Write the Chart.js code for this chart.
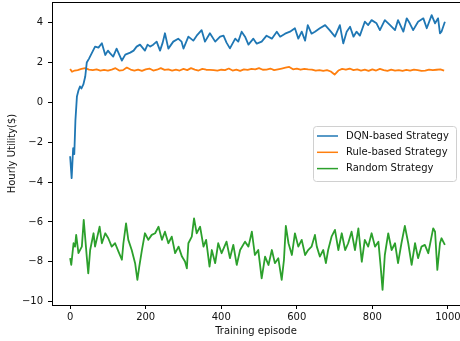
<!DOCTYPE html>
<html lang="en">
<head>
<meta charset="UTF-8">
<title>Hourly utility per training episode</title>
<style>
  html, body { margin: 0; padding: 0; background: #fff; }
  #chart { display: block; }
</style>
</head>
<body>
<canvas id="chart" width="460" height="341"></canvas>
<script src="https://cdn.jsdelivr.net/npm/chart.js"></script>
<script>
// values
const seriesNames = ["DQN-based Strategy", "Rule-based Strategy", "Random Strategy"];
const xTicks = [0, 200, 400, 600, 800, 1000];
const yTicks = [-10, -8, -6, -4, -2, 0, 2, 4];

const dqnEpisodes = [0,4,8,11,14,18,22,26,30,35,40,44,50,57,66,75,84,93,100,106,114,123,130,137,146,159,168,176,185,198,205,212,220,229,238,245,251,260,273,286,295,300,313,326,335,348,357,370,384,397,406,414,423,437,445,454,463,472,485,494,507,520,534,547,556,569,582,595,604,613,622,629,639,648,661,675,688,701,714,723,732,741,750,758,767,780,789,798,811,820,833,847,860,868,882,891,899,908,921,935,944,957,966,974,979,983,992];
const dqnValues = [-2.7,-3.8,-2.3,-2.6,-0.9,0.3,0.6,0.8,0.7,0.9,1.3,2.0,2.2,2.46,2.8,2.75,2.97,2.38,2.6,2.46,2.3,2.7,2.4,2.1,2.4,2.5,2.6,2.8,2.9,2.6,2.9,2.8,2.9,3.05,2.6,3.0,3.47,2.7,3.05,3.2,3.05,2.7,3.3,3.1,3.35,3.63,3.05,3.47,3.05,3.3,3.35,3.0,2.71,3.2,3.05,3.55,3.3,2.9,3.2,2.95,3.05,3.35,3.2,3.55,3.3,3.45,3.55,3.72,3.2,3.55,3.1,3.88,3.45,3.55,3.72,3.88,3.6,3.3,3.88,2.96,3.55,3.8,3.3,3.55,3.35,4.05,3.88,4.13,3.97,3.63,4.13,3.88,3.63,4.13,3.55,4.22,3.97,3.63,4.05,4.22,3.72,4.38,3.97,4.22,3.47,3.55,4.05];

const ruleEpisodes = [0,5,12,20,30,40,50,60,70,80,90,100,110,120,130,140,150,160,170,180,190,200,210,220,230,240,250,260,270,280,290,300,310,320,330,340,350,360,370,380,390,400,410,420,430,440,450,460,470,480,490,500,510,520,530,540,550,560,570,580,590,600,610,620,630,640,650,660,670,680,690,700,710,720,730,740,750,760,770,780,790,800,810,820,830,840,850,860,870,880,890,900,910,920,930,940,950,960,970,980,990];
const ruleValues = [1.68,1.54,1.6,1.62,1.68,1.72,1.65,1.62,1.66,1.6,1.63,1.6,1.65,1.72,1.6,1.62,1.75,1.65,1.6,1.65,1.58,1.66,1.7,1.6,1.64,1.72,1.63,1.66,1.6,1.64,1.6,1.68,1.62,1.72,1.65,1.6,1.68,1.64,1.63,1.62,1.6,1.64,1.62,1.7,1.6,1.65,1.58,1.66,1.63,1.68,1.66,1.72,1.64,1.65,1.7,1.62,1.66,1.7,1.74,1.78,1.66,1.7,1.64,1.68,1.66,1.65,1.6,1.62,1.58,1.62,1.55,1.4,1.6,1.68,1.64,1.7,1.62,1.66,1.6,1.64,1.58,1.66,1.6,1.68,1.62,1.58,1.64,1.6,1.62,1.58,1.63,1.6,1.65,1.62,1.58,1.6,1.65,1.62,1.64,1.66,1.6];

const randomEpisodes = [0,3,9,13,16,22,31,36,44,48,53,62,66,78,84,93,101,110,119,128,137,141,148,154,163,172,178,183,190,198,207,216,225,234,243,251,260,269,278,287,296,304,309,313,322,328,335,344,353,360,369,375,384,392,401,414,423,432,441,450,463,472,481,489,498,507,516,525,534,542,551,560,566,571,578,587,595,604,613,622,630,639,648,653,661,670,677,683,692,701,710,719,728,736,745,754,763,772,780,789,798,807,816,822,827,833,842,851,860,868,877,886,895,904,913,921,930,939,948,961,966,972,979,983,992];
const randomValues = [-7.82,-8.16,-7.07,-7.24,-6.65,-7.57,-7.24,-5.9,-7.74,-8.58,-7.41,-6.57,-7.24,-6.24,-7.07,-6.57,-6.82,-7.24,-7.07,-7.49,-7.9,-7.07,-6.07,-6.9,-7.41,-8.07,-8.91,-8.24,-7.41,-6.57,-6.9,-6.65,-6.57,-6.24,-6.9,-6.49,-7.07,-6.74,-7.57,-7.24,-7.74,-7.99,-8.33,-7.07,-6.74,-5.82,-6.57,-6.24,-7.24,-6.9,-8.24,-7.41,-8.07,-7.07,-7.57,-6.99,-7.82,-7.15,-8.16,-7.41,-6.99,-7.24,-6.49,-7.66,-7.41,-8.83,-7.74,-8.16,-7.41,-8.07,-7.82,-8.91,-7.9,-6.2,-7.07,-7.66,-6.57,-7.24,-6.9,-7.66,-7.41,-7.24,-6.65,-7.24,-7.74,-7.41,-8.07,-7.41,-6.74,-6.4,-7.41,-6.57,-7.41,-7.07,-6.49,-7.41,-6.32,-8.0,-6.9,-7.24,-6.57,-7.24,-6.99,-8.24,-9.41,-7.66,-6.57,-7.41,-7.07,-8.07,-7.07,-6.2,-7.07,-8.16,-7.07,-7.82,-7.24,-7.15,-7.57,-6.32,-6.49,-8.41,-7.07,-6.82,-7.15];

const colors = ["#1f77b4", "#ff7f0e", "#2ca02c"];
const FONT = "'DejaVu Sans', sans-serif";

function pts(xs, ys) {
  return xs.map((x, i) => ({ x: x, y: ys[i] }));
}

function fmt(v) {
  return v < 0 ? "\u2212" + Math.abs(v) : String(v);
}

// top spine + legend box like matplotlib's
const frameAndLegend = {
  id: "frameAndLegend",
  afterDraw(chart) {
    const ctx = chart.ctx;
    const a = chart.chartArea;
    ctx.save();
    ctx.strokeStyle = "#000";
    ctx.lineWidth = 1;
    ctx.beginPath();
    ctx.moveTo(a.left, a.top + 0.5);
    ctx.lineTo(a.right, a.top + 0.5);
    ctx.stroke();

    const bx = 313.5, by = 126.5, bw = 143, bh = 55;
    ctx.beginPath();
    ctx.roundRect(bx, by, bw, bh, 3);
    ctx.fillStyle = "rgba(255,255,255,0.8)";
    ctx.fill();
    ctx.strokeStyle = "#d0d0d0";
    ctx.stroke();

    ctx.font = "10px " + FONT;
    ctx.textBaseline = "middle";
    ctx.textAlign = "left";
    chart.data.datasets.forEach((ds, i) => {
      const y = 136 + i * 16.3;
      ctx.strokeStyle = ds.borderColor;
      ctx.lineWidth = 1.5;
      ctx.beginPath();
      ctx.moveTo(317, y);
      ctx.lineTo(338, y);
      ctx.stroke();
      ctx.fillStyle = "#111";
      ctx.fillText(ds.label, 346, y);
    });
    ctx.restore();
  }
};

const ctx = document.getElementById("chart").getContext("2d");
new Chart(ctx, {
  type: "line",
  data: {
    datasets: [
      { label: seriesNames[0], data: pts(dqnEpisodes, dqnValues), borderColor: colors[0] },
      { label: seriesNames[1], data: pts(ruleEpisodes, ruleValues), borderColor: colors[1] },
      { label: seriesNames[2], data: pts(randomEpisodes, randomValues), borderColor: colors[2] }
    ]
  },
  options: {
    responsive: false,
    devicePixelRatio: 1,
    animation: false,
    events: [],
    layout: { padding: { top: 2, right: 0, left: 0, bottom: 0 } },
    elements: {
      line: { borderWidth: 1.8, tension: 0, fill: false, borderJoinStyle: "round" },
      point: { radius: 0 }
    },
    plugins: {
      legend: { display: false },
      tooltip: { enabled: false }
    },
    scales: {
      x: {
        type: "linear",
        min: -48,
        max: 1032,
        afterBuildTicks: s => { s.ticks = xTicks.map(v => ({ value: v })); },
        afterFit: s => { s.height = 36; s.paddingLeft = 0; s.paddingRight = 0; },
        grid: { display: true, drawOnChartArea: false, drawTicks: true, tickLength: 4, color: "#000" },
        border: { display: true, color: "#000", width: 1 },
        ticks: { color: "#111", font: { family: FONT, size: 10 }, padding: 2, maxRotation: 0, callback: v => String(v) },
        title: { display: true, text: "Training episode", color: "#111", font: { family: FONT, size: 10 }, padding: { top: 0, bottom: 4 } }
      },
      y: {
        min: -10.17,
        max: 5.04,
        afterBuildTicks: s => { s.ticks = yTicks.map(v => ({ value: v })); },
        afterFit: s => { s.width = 52; s.paddingTop = 0; s.paddingBottom = 0; },
        grid: { display: true, drawOnChartArea: false, drawTicks: true, tickLength: 4, color: "#000" },
        border: { display: true, color: "#000", width: 1 },
        ticks: { color: "#111", font: { family: FONT, size: 10 }, padding: 5, callback: v => fmt(v) },
        title: { display: true, text: "Hourly Utility($)", color: "#111", font: { family: FONT, size: 10 }, padding: { top: 6, bottom: 0 } }
      }
    }
  },
  plugins: [frameAndLegend]
});
</script>
</body>
</html>
